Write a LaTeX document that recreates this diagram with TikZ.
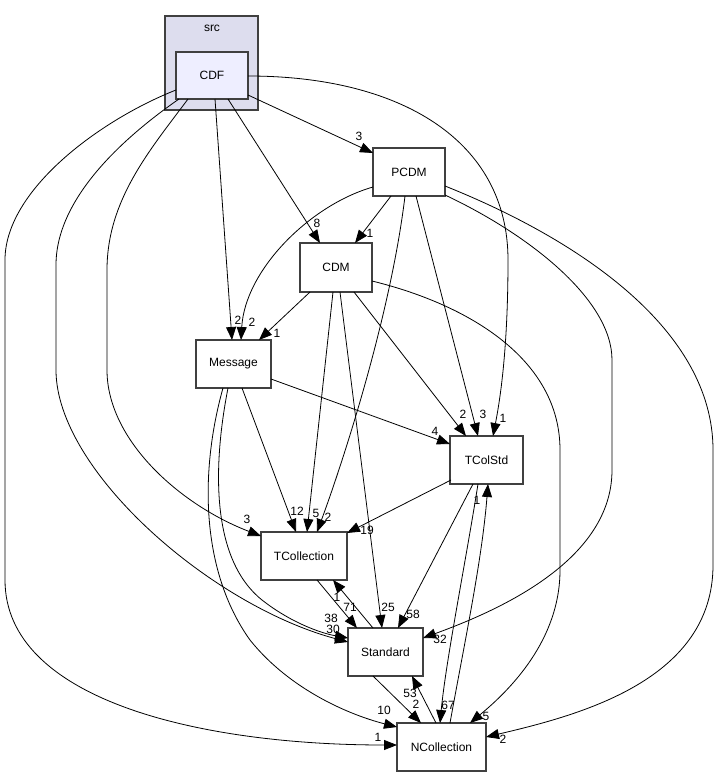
\documentclass[tikz,border=0pt]{standalone}
\usepackage{fontspec}
\setmainfont{Liberation Sans}
\usetikzlibrary{arrows.meta}
\definecolor{clfill}{HTML}{DDDDEE}
\definecolor{cdffill}{HTML}{EEEEFF}
\definecolor{bord}{HTML}{404040}
\begin{document}
\begin{tikzpicture}[x=1pt,y=-1pt,
  box/.style={draw=bord,line width=1.4pt,fill=white,inner sep=0pt,minimum height=48pt,font=\fontsize{12}{14}\selectfont},
  dep/.style={line width=0.8pt,-{Triangle[length=13pt,width=10pt]}},
  lbl/.style={inner sep=0pt,font=\fontsize{12}{14}\selectfont}]
\useasboundingbox (0,0) rectangle (719,777);
% cluster
\node[draw=bord,line width=1.4pt,fill=clfill,minimum width=93pt,minimum height=94pt,inner sep=0pt] (src) at (211.5,63) {};
\node[lbl] (srclbl) at (212,28) {src};
% nodes
\node[box,fill=cdffill,minimum width=72pt,minimum height=47pt] (CDF) at (212,75.5) {CDF};
\node[box,minimum width=72pt] (PCDM) at (409,172) {PCDM};
\node[box,minimum width=72pt,minimum height=49pt] (CDM) at (336,267.5) {CDM};
\node[box,minimum width=75pt] (Message) at (233.5,364) {Message};
\node[box,minimum width=73pt] (TColStd) at (486.5,460) {TColStd};
\node[box,minimum width=86pt] (TCollection) at (304,556) {TCollection};
\node[box,minimum width=75pt] (Standard) at (385.5,652) {Standard};
\node[box,minimum width=89pt] (NCollection) at (441.5,747) {NCollection};
% edges from CDF
\draw[dep] ([shift={(36,19.5)}]CDF.center) -- ([shift={(-36,-19)}]PCDM.center);
\draw[dep] ([shift={(16,23.5)}]CDF.center) -- ([shift={(-16,-24.5)}]CDM.center);
\draw[dep] ([shift={(3,23.5)}]CDF.center) -- ([shift={(-1.5,-24)}]Message.center);
\draw[dep] ([shift={(36,0.5)}]CDF.center) .. controls (400,76) and (508,140) .. (508,260) .. controls (508,350) and (500,400) .. ([shift={(6.5,-24)}]TColStd.center);
\draw[dep] ([shift={(-24,23.5)}]CDF.center) .. controls (150,150) and (107,200) .. (107,270) -- (107,370) .. controls (107,440) and (180,505) .. ([shift={(-43,-20)}]TCollection.center);
\draw[dep] ([shift={(-33,23.5)}]CDF.center) .. controls (120,140) and (56,200) .. (56,265) -- (56,370) .. controls (56,470) and (210,605) .. ([shift={(-37.5,-10)}]Standard.center);
\draw[dep] ([shift={(-36,14.5)}]CDF.center) .. controls (100,120) and (5,190) .. (5,260) -- (5,580) .. controls (5,700) and (200,745) .. ([shift={(-44.5,-2)}]NCollection.center);
% edges from PCDM
\draw[dep] ([shift={(-18,24)}]PCDM.center) -- ([shift={(19,-24.5)}]CDM.center);
\draw[dep] ([shift={(-36,15)}]PCDM.center) .. controls (310,205) and (245,270) .. ([shift={(7.5,-24)}]Message.center);
\draw[dep] ([shift={(-4,24)}]PCDM.center) .. controls (390,320) and (340,470) .. ([shift={(13,-24)}]TCollection.center);
\draw[dep] ([shift={(7,24)}]PCDM.center) -- ([shift={(-8.5,-24)}]TColStd.center);
\draw[dep] ([shift={(36,23)}]PCDM.center) .. controls (530,235) and (612,300) .. (612,360) -- (612,470) .. controls (612,560) and (500,610) .. ([shift={(37.5,-14)}]Standard.center);
\draw[dep] ([shift={(36,14)}]PCDM.center) .. controls (580,240) and (713,330) .. (713,450) -- (713,565) .. controls (713,680) and (580,715) .. ([shift={(44.5,-10)}]NCollection.center);
% edges from CDM
\draw[dep] ([shift={(-26,24.5)}]CDM.center) -- ([shift={(25.5,-24)}]Message.center);
\draw[dep] ([shift={(-3,24.5)}]CDM.center) -- ([shift={(3,-24)}]TCollection.center);
\draw[dep] ([shift={(4,24.5)}]CDM.center) -- ([shift={(-3.5,-24)}]Standard.center);
\draw[dep] ([shift={(18,24.5)}]CDM.center) -- ([shift={(-20.5,-24)}]TColStd.center);
\draw[dep] ([shift={(36,13.5)}]CDM.center) .. controls (470,305) and (560,360) .. (560,450) -- (560,570) .. controls (560,640) and (510,690) .. ([shift={(28.5,-24)}]NCollection.center);
% edges from Message
\draw[dep] ([shift={(37.5,15)}]Message.center) -- ([shift={(-36.5,-16)}]TColStd.center);
\draw[dep] ([shift={(8.5,24)}]Message.center) -- ([shift={(-8,-24)}]TCollection.center);
\draw[dep] ([shift={(-5.5,24)}]Message.center) .. controls (212,470) and (212,560) .. (262,600) .. controls (290,622) and (320,633) .. ([shift={(-37.5,-14)}]Standard.center);
\draw[dep] ([shift={(-10.5,24)}]Message.center) .. controls (200,470) and (200,570) .. (250,640) .. controls (290,690) and (350,715) .. ([shift={(-44.5,-20)}]NCollection.center);
% edges from TColStd
\draw[dep] ([shift={(-35.5,20)}]TColStd.center) -- ([shift={(43,-23)}]TCollection.center);
\draw[dep] ([shift={(-13.5,24)}]TColStd.center) -- ([shift={(12.5,-24)}]Standard.center);
\draw[dep] ([shift={(-8.5,24)}]TColStd.center) .. controls (466,560) and (446,660) .. ([shift={(-1.5,-24)}]NCollection.center);
% others
\draw[dep] ([shift={(8.5,-24)}]NCollection.center) .. controls (465,640) and (482,560) .. ([shift={(1.5,24)}]TColStd.center);
\draw[dep] ([shift={(-5.5,-24)}]NCollection.center) -- ([shift={(26.5,24)}]Standard.center);
\draw[dep] ([shift={(13,24)}]TCollection.center) -- ([shift={(-28.5,-24)}]Standard.center);
\draw[dep] ([shift={(-12.5,-24)}]Standard.center) -- ([shift={(29,24)}]TCollection.center);
\draw[dep] ([shift={(-12.5,24)}]Standard.center) -- ([shift={(-20.5,-24)}]NCollection.center);
% labels
\node[lbl] (a1) at (359,136) {3};
\node[lbl] (a2) at (317,223) {8};
\node[lbl] (a3) at (370,233) {1};
\node[lbl] (a4) at (238,320) {2};
\node[lbl] (a5) at (252,322) {2};
\node[lbl] (a6) at (277,333) {1};
\node[lbl] (a7) at (435,431) {4};
\node[lbl] (a8) at (463,414) {2};
\node[lbl] (a9) at (483,414) {3};
\node[lbl] (a10) at (503,418) {1};
\node[lbl] (a11) at (477,500) {1};
\node[lbl] (a12) at (247,519) {3};
\node[lbl] (a13) at (297,511) {12};
\node[lbl] (a14) at (316,513) {5};
\node[lbl] (a15) at (328,517) {2};
\node[lbl] (a16) at (367,530) {19};
\node[lbl] (a17) at (337,597) {1};
\node[lbl] (a18) at (350,607) {71};
\node[lbl] (a19) at (388,607) {25};
\node[lbl] (a20) at (413,614) {58};
\node[lbl] (a21) at (331,618) {38};
\node[lbl] (a22) at (333,629) {30};
\node[lbl] (a23) at (440,639) {32};
\node[lbl] (a24) at (410,693) {53};
\node[lbl] (a25) at (416,704) {2};
\node[lbl] (a26) at (384,710) {10};
\node[lbl] (a27) at (378,737) {1};
\node[lbl] (a28) at (448,705) {67};
\node[lbl] (a29) at (486,716) {5};
\node[lbl] (a30) at (503,739) {2};
\end{tikzpicture}
\end{document}
